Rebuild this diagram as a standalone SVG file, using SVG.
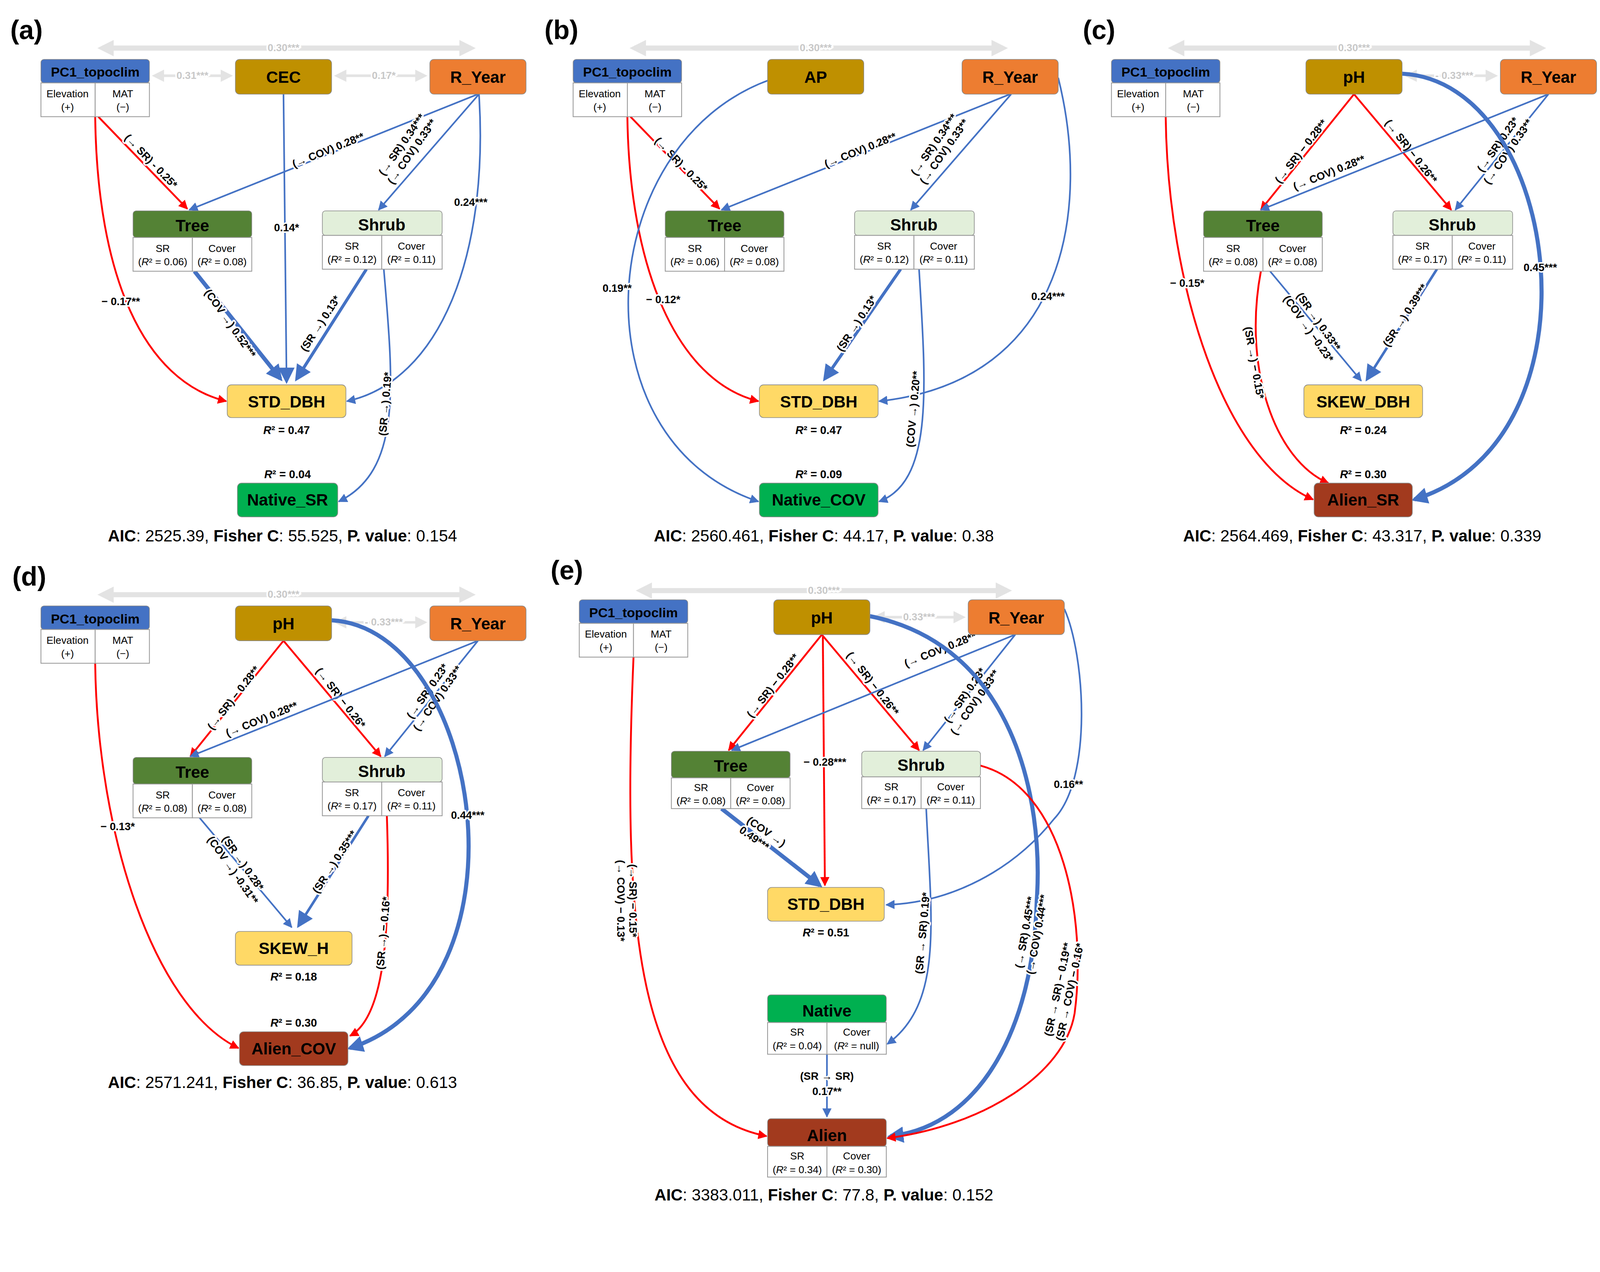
<svg xmlns="http://www.w3.org/2000/svg" width="4294" height="3256" viewBox="0 0 4294 3256">
<style>
text{font-family:"Liberation Sans",Arial,sans-serif;text-anchor:middle}
.t{font-size:16px;font-weight:bold}
.tp{font-size:13px;font-weight:bold}
.c{font-size:10px}
.l{font-size:10.5px;font-weight:bold;stroke:#fff;stroke-width:3px;paint-order:stroke;stroke-linejoin:round}
.g{font-size:10px;font-weight:bold;fill:#C8C8C8;stroke:#fff;stroke-width:3px;paint-order:stroke}
.r2{font-size:11px;font-weight:bold}
.pl{font-size:26px;font-weight:bold;text-anchor:start}
.aic{font-size:16px}
.cell{fill:#fff;stroke:#999;stroke-width:0.8}
.hd{stroke:#888;stroke-width:0.6}
.b{fill:none;stroke:#4472C4;stroke-width:1.6;marker-end:url(#ab)}
.bk{fill:none;stroke:#4472C4;stroke-width:4;marker-end:url(#abk)}
.r{fill:none;stroke:#FF0000;stroke-width:1.8;marker-end:url(#ar)}
.gr{fill:none;stroke:#E3E3E3;stroke-width:5;marker-end:url(#ag);marker-start:url(#ags)}
.gs{fill:none;stroke:#E3E3E3;stroke-width:2.5;marker-end:url(#ag2);marker-start:url(#ag2s)}
</style>
<defs>
<marker id="ab" viewBox="0 0 10 10" refX="9" refY="5" markerWidth="9" markerHeight="9" markerUnits="userSpaceOnUse" orient="auto"><path d="M0,0 L10,5 L0,10 z" fill="#4472C4"/></marker>
<marker id="abk" viewBox="0 0 10 10" refX="8" refY="5" markerWidth="16" markerHeight="16" markerUnits="userSpaceOnUse" orient="auto"><path d="M0,0 L10,5 L0,10 z" fill="#4472C4"/></marker>
<marker id="ar" viewBox="0 0 10 10" refX="9" refY="5" markerWidth="9" markerHeight="9" markerUnits="userSpaceOnUse" orient="auto"><path d="M0,0 L10,5 L0,10 z" fill="#FF0000"/></marker>
<marker id="ag" viewBox="0 0 10 10" refX="7" refY="5" markerWidth="16" markerHeight="16" markerUnits="userSpaceOnUse" orient="auto"><path d="M0,0 L10,5 L0,10 z" fill="#E3E3E3"/></marker>
<marker id="ags" viewBox="0 0 10 10" refX="3" refY="5" markerWidth="16" markerHeight="16" markerUnits="userSpaceOnUse" orient="auto"><path d="M10,0 L0,5 L10,10 z" fill="#E3E3E3"/></marker>
<marker id="ag2" viewBox="0 0 10 10" refX="7" refY="5" markerWidth="12" markerHeight="12" markerUnits="userSpaceOnUse" orient="auto"><path d="M0,0 L10,5 L0,10 z" fill="#E3E3E3"/></marker>
<marker id="ag2s" viewBox="0 0 10 10" refX="3" refY="5" markerWidth="12" markerHeight="12" markerUnits="userSpaceOnUse" orient="auto"><path d="M10,0 L0,5 L10,10 z" fill="#E3E3E3"/></marker>
</defs>
<rect width="4294" height="3256" fill="#fff"/>
<g transform="scale(2.62)">

<!-- ================= PANEL A ================= -->
<g id="panel-a">
<text class="pl" x="10" y="38">(a)</text>
<g id="a-connectors">
<path class="gr" d="M100,47 L460,47"/><text class="g" x="277" y="50">0.30***</text>
<path class="gs" d="M152,74 L224,74"/><text class="g" x="188" y="77">0.31***</text>
<path class="gs" d="M330,74 L414,74"/><text class="g" x="375" y="77">0.17*</text>
<path class="r" d="M96,114 L183,204"/><text class="l" transform="translate(145,160) rotate(46)">(→ SR) - 0.25*</text>
<path class="r" d="M93,114 C95,270 140,372 221,392"/><text class="l" x="118" y="298">− 0.17**</text>
<path class="b" d="M467,92 L185,205"/><text class="l" transform="translate(322,150) rotate(-22)">(→ COV) 0.28**</text>
<path class="b" d="M468,92 L370,205"/><text class="l" transform="translate(398,145) rotate(-55)"><tspan x="0" y="-3">(→ SR) 0.34***</tspan><tspan x="0" y="9">(→ COV) 0.33**</tspan></text>
<path fill="none" stroke="#4472C4" stroke-width="1.6" marker-end="url(#abk)" d="M277,92 L280,372"/><text class="l" x="280" y="226">0.14*</text>
<path class="bk" d="M190,265 L274,370"/><text class="l" transform="translate(222,318) rotate(55)">(COV →) 0.52***</text>
<path class="bk" style="stroke-width:3" d="M358,263 L290,370"/><text class="l" transform="translate(316,318) rotate(-57)">(SR →) 0.13*</text>
<path class="b" d="M468,92 C478,250 430,372 339,392"/><text class="l" x="460" y="201">0.24***</text>
<path class="b" d="M375,263 C385,380 392,460 331,490"/><text class="l" transform="translate(380,395) rotate(-85)">(SR →) 0.19*</text>
</g>
<g id="a-PC1"><rect x="40" y="58" width="106" height="23" rx="3" fill="#4472C4" class="hd"/><rect class="cell" x="40" y="81" width="53" height="33"/><rect class="cell" x="93" y="81" width="53" height="33"/><text class="tp" x="93" y="75">PC1_topoclim</text><text class="c" x="66" y="95">Elevation</text><text class="c" x="66" y="108">(+)</text><text class="c" x="120" y="95">MAT</text><text class="c" x="120" y="108">(−)</text></g>
<g id="a-CEC"><rect x="230" y="58" width="94" height="34" rx="4" fill="#BF9000" class="hd"/><text class="t" x="277" y="81">CEC</text></g>
<g id="a-RYear"><rect x="420" y="58" width="94" height="34" rx="4" fill="#ED7D31" class="hd"/><text class="t" x="467" y="81">R_Year</text></g>
<g id="a-Tree"><rect x="130" y="206" width="116" height="26" rx="3" fill="#548235" class="hd"/><rect class="cell" x="130" y="232" width="58" height="33"/><rect class="cell" x="188" y="232" width="58" height="33"/><text class="t" x="188" y="226">Tree</text><text class="c" x="159" y="246">SR</text><text class="c" x="159" y="259">(<tspan font-style="italic">R</tspan>² = 0.06)</text><text class="c" x="217" y="246">Cover</text><text class="c" x="217" y="259">(<tspan font-style="italic">R</tspan>² = 0.08)</text></g>
<g id="a-Shrub"><rect x="315" y="206" width="117" height="24" rx="3" fill="#E2EFDA" class="hd"/><rect class="cell" x="315" y="230" width="58" height="33"/><rect class="cell" x="373" y="230" width="59" height="33"/><text class="t" x="373" y="225">Shrub</text><text class="c" x="344" y="244">SR</text><text class="c" x="344" y="257">(<tspan font-style="italic">R</tspan>² = 0.12)</text><text class="c" x="402" y="244">Cover</text><text class="c" x="402" y="257">(<tspan font-style="italic">R</tspan>² = 0.11)</text></g>
<g id="a-STD"><rect x="222" y="376" width="116" height="32" rx="4" fill="#FFD966" class="hd"/><text class="t" x="280" y="398">STD_DBH</text><text class="r2" x="280" y="424"><tspan font-style="italic">R</tspan>² = 0.47</text></g>
<g id="a-Native"><rect x="232" y="472" width="98" height="33" rx="4" fill="#00B050" class="hd"/><text class="t" x="281" y="494">Native_SR</text><text class="r2" x="281" y="467"><tspan font-style="italic">R</tspan>² = 0.04</text></g>
<text class="aic" x="276" y="529"><tspan font-weight="bold">AIC</tspan>: 2525.39, <tspan font-weight="bold">Fisher C</tspan>: 55.525, <tspan font-weight="bold">P. value</tspan>: 0.154</text>
</g>

<!-- ================= PANEL B ================= -->
<g id="panel-b" transform="translate(520,0)">
<text class="pl" x="12" y="38">(b)</text>
<g id="b-connectors">
<path class="gr" d="M100,47 L460,47"/><text class="g" x="277" y="50">0.30***</text>
<path class="r" d="M96,114 L183,204"/><text class="l" transform="translate(143,163) rotate(46)">(→ SR) - 0.25*</text>
<path class="r" d="M93,114 C95,260 140,372 221,392"/><text class="l" x="128" y="296">− 0.12*</text>
<path class="b" d="M232,78 C60,140 40,430 221,490"/><text class="l" x="83" y="285">0.19**</text>
<path class="b" d="M467,92 L185,205"/><text class="l" transform="translate(322,150) rotate(-22)">(→ COV) 0.28**</text>
<path class="b" d="M468,92 L370,205"/><text class="l" transform="translate(398,145) rotate(-55)"><tspan x="0" y="-3">(→ SR) 0.34***</tspan><tspan x="0" y="9">(→ COV) 0.33**</tspan></text>
<path class="b" d="M514,76 C545,200 525,372 339,392"/><text class="l" x="504" y="293">0.24***</text>
<path class="bk" style="stroke-width:3" d="M360,263 L286,370"/><text class="l" transform="translate(320,318) rotate(-57)">(SR →) 0.13*</text>
<path class="b" d="M378,263 C385,380 392,470 339,490"/><text class="l" transform="translate(376,400) rotate(-85)">(COV →) 0.20**</text>
</g>
<g id="b-PC1"><rect x="40" y="58" width="106" height="23" rx="3" fill="#4472C4" class="hd"/><rect class="cell" x="40" y="81" width="53" height="33"/><rect class="cell" x="93" y="81" width="53" height="33"/><text class="tp" x="93" y="75">PC1_topoclim</text><text class="c" x="66" y="95">Elevation</text><text class="c" x="66" y="108">(+)</text><text class="c" x="120" y="95">MAT</text><text class="c" x="120" y="108">(−)</text></g>
<g id="b-AP"><rect x="230" y="58" width="94" height="34" rx="4" fill="#BF9000" class="hd"/><text class="t" x="277" y="81">AP</text></g>
<g id="b-RYear"><rect x="420" y="58" width="94" height="34" rx="4" fill="#ED7D31" class="hd"/><text class="t" x="467" y="81">R_Year</text></g>
<g id="b-Tree"><rect x="130" y="206" width="116" height="26" rx="3" fill="#548235" class="hd"/><rect class="cell" x="130" y="232" width="58" height="33"/><rect class="cell" x="188" y="232" width="58" height="33"/><text class="t" x="188" y="226">Tree</text><text class="c" x="159" y="246">SR</text><text class="c" x="159" y="259">(<tspan font-style="italic">R</tspan>² = 0.06)</text><text class="c" x="217" y="246">Cover</text><text class="c" x="217" y="259">(<tspan font-style="italic">R</tspan>² = 0.08)</text></g>
<g id="b-Shrub"><rect x="315" y="206" width="117" height="24" rx="3" fill="#E2EFDA" class="hd"/><rect class="cell" x="315" y="230" width="58" height="33"/><rect class="cell" x="373" y="230" width="59" height="33"/><text class="t" x="373" y="225">Shrub</text><text class="c" x="344" y="244">SR</text><text class="c" x="344" y="257">(<tspan font-style="italic">R</tspan>² = 0.12)</text><text class="c" x="402" y="244">Cover</text><text class="c" x="402" y="257">(<tspan font-style="italic">R</tspan>² = 0.11)</text></g>
<g id="b-STD"><rect x="222" y="376" width="116" height="32" rx="4" fill="#FFD966" class="hd"/><text class="t" x="280" y="398">STD_DBH</text><text class="r2" x="280" y="424"><tspan font-style="italic">R</tspan>² = 0.47</text></g>
<g id="b-Native"><rect x="222" y="472" width="116" height="33" rx="4" fill="#00B050" class="hd"/><text class="t" x="280" y="494">Native_COV</text><text class="r2" x="280" y="467"><tspan font-style="italic">R</tspan>² = 0.09</text></g>
<text class="aic" x="285" y="529"><tspan font-weight="bold">AIC</tspan>: 2560.461, <tspan font-weight="bold">Fisher C</tspan>: 44.17, <tspan font-weight="bold">P. value</tspan>: 0.38</text>
</g>

<!-- ================= PANEL C ================= -->
<g id="panel-c" transform="translate(1046,0)">
<text class="pl" x="12" y="38">(c)</text>
<g id="c-connectors">
<path class="gr" d="M100,47 L460,47"/><text class="g" x="277" y="50">0.30***</text>
<path class="gs" d="M330,74 L414,74"/><text class="g" x="375" y="77">- 0.33***</text>
<path class="r" d="M93,114 C95,280 150,450 237,488"/><text class="l" x="114" y="280">− 0.15*</text>
<path class="r" d="M277,92 L186,205"/><text class="l" transform="translate(228,150) rotate(-52)">(→ SR) − 0.28**</text>
<path class="r" d="M277,92 L372,205"/><text class="l" transform="translate(330,150) rotate(52)">(→ SR) − 0.26**</text>
<path class="b" d="M467,92 L186,205"/><text class="l" transform="translate(254,172) rotate(-22)">(→ COV) 0.28**</text>
<path class="b" d="M467,92 L376,205"/><text class="l" transform="translate(423,145) rotate(-55)"><tspan x="0" y="-3">(→ SR) 0.23*</tspan><tspan x="0" y="9">(→ COV) 0.33**</tspan></text>
<path class="bk" d="M324,72 C480,80 525,430 336,488"/><text class="l" x="459" y="265">0.45***</text>
<path class="b" d="M195,265 L284,372"/><text class="l" transform="translate(237,318) rotate(55)"><tspan x="0" y="-3">(SR →) 0.33**</tspan><tspan x="0" y="9">(COV →) −0.23*</tspan></text>
<path class="bk" style="stroke-width:2.5" d="M358,263 L290,370"/><text class="l" transform="translate(330,310) rotate(-57)">(SR →) 0.39***</text>
<path class="r" d="M186,265 C168,360 200,450 252,472"/><text class="l" transform="translate(176,355) rotate(80)">(SR →) − 0.15*</text>
</g>
<g id="c-PC1"><rect x="40" y="58" width="106" height="23" rx="3" fill="#4472C4" class="hd"/><rect class="cell" x="40" y="81" width="53" height="33"/><rect class="cell" x="93" y="81" width="53" height="33"/><text class="tp" x="93" y="75">PC1_topoclim</text><text class="c" x="66" y="95">Elevation</text><text class="c" x="66" y="108">(+)</text><text class="c" x="120" y="95">MAT</text><text class="c" x="120" y="108">(−)</text></g>
<g id="c-pH"><rect x="230" y="58" width="94" height="34" rx="4" fill="#BF9000" class="hd"/><text class="t" x="277" y="81">pH</text></g>
<g id="c-RYear"><rect x="420" y="58" width="94" height="34" rx="4" fill="#ED7D31" class="hd"/><text class="t" x="467" y="81">R_Year</text></g>
<g id="c-Tree"><rect x="130" y="206" width="116" height="26" rx="3" fill="#548235" class="hd"/><rect class="cell" x="130" y="232" width="58" height="33"/><rect class="cell" x="188" y="232" width="58" height="33"/><text class="t" x="188" y="226">Tree</text><text class="c" x="159" y="246">SR</text><text class="c" x="159" y="259">(<tspan font-style="italic">R</tspan>² = 0.08)</text><text class="c" x="217" y="246">Cover</text><text class="c" x="217" y="259">(<tspan font-style="italic">R</tspan>² = 0.08)</text></g>
<g id="c-Shrub"><rect x="315" y="206" width="117" height="24" rx="3" fill="#E2EFDA" class="hd"/><rect class="cell" x="315" y="230" width="58" height="33"/><rect class="cell" x="373" y="230" width="59" height="33"/><text class="t" x="373" y="225">Shrub</text><text class="c" x="344" y="244">SR</text><text class="c" x="344" y="257">(<tspan font-style="italic">R</tspan>² = 0.17)</text><text class="c" x="402" y="244">Cover</text><text class="c" x="402" y="257">(<tspan font-style="italic">R</tspan>² = 0.11)</text></g>
<g id="c-SKEW"><rect x="228" y="376" width="116" height="32" rx="4" fill="#FFD966" class="hd"/><text class="t" x="286" y="398">SKEW_DBH</text><text class="r2" x="286" y="424"><tspan font-style="italic">R</tspan>² = 0.24</text></g>
<g id="c-Alien"><rect x="238" y="472" width="96" height="33" rx="4" fill="#A23A1E" class="hd"/><text class="t" x="286" y="494">Alien_SR</text><text class="r2" x="286" y="467"><tspan font-style="italic">R</tspan>² = 0.30</text></g>
<text class="aic" x="285" y="529"><tspan font-weight="bold">AIC</tspan>: 2564.469, <tspan font-weight="bold">Fisher C</tspan>: 43.317, <tspan font-weight="bold">P. value</tspan>: 0.339</text>
</g>

<!-- ================= PANEL D ================= -->
<g id="panel-d" transform="translate(0,534)">
<text class="pl" x="12" y="38">(d)</text>
<g id="d-connectors">
<path class="gr" d="M100,47 L460,47"/><text class="g" x="277" y="50">0.30***</text>
<path class="gs" d="M330,74 L414,74"/><text class="g" x="375" y="77">- 0.33***</text>
<path class="r" d="M93,114 C95,280 150,450 233,490"/><text class="l" x="115" y="277">− 0.13*</text>
<path class="r" d="M277,92 L186,205"/><text class="l" transform="translate(231,150) rotate(-52)">(→ SR) − 0.28**</text>
<path class="r" d="M277,92 L372,205"/><text class="l" transform="translate(330,150) rotate(52)">(→ SR) − 0.26*</text>
<path class="b" d="M467,92 L186,205"/><text class="l" transform="translate(257,172) rotate(-22)">(→ COV) 0.28**</text>
<path class="b" d="M467,92 L376,205"/><text class="l" transform="translate(423,145) rotate(-55)"><tspan x="0" y="-3">(→ SR) 0.23*</tspan><tspan x="0" y="9">(→ COV) 0.33**</tspan></text>
<path class="bk" d="M324,72 C470,80 525,430 342,490"/><text class="l" x="457" y="266">0.44***</text>
<path class="b" d="M195,265 L285,372"/><text class="l" transform="translate(232,313) rotate(55)"><tspan x="0" y="-3">(SR →) 0.28*</tspan><tspan x="0" y="9">(COV →) -0.31**</tspan></text>
<path class="bk" style="stroke-width:2.5" d="M360,263 L292,370"/><text class="l" transform="translate(330,310) rotate(-57)">(SR →) 0.35***</text>
<path class="r" d="M378,263 C382,380 375,460 342,478"/><text class="l" transform="translate(378,378) rotate(-85)">(SR →) − 0.16*</text>
</g>
<g id="d-PC1"><rect x="40" y="58" width="106" height="23" rx="3" fill="#4472C4" class="hd"/><rect class="cell" x="40" y="81" width="53" height="33"/><rect class="cell" x="93" y="81" width="53" height="33"/><text class="tp" x="93" y="75">PC1_topoclim</text><text class="c" x="66" y="95">Elevation</text><text class="c" x="66" y="108">(+)</text><text class="c" x="120" y="95">MAT</text><text class="c" x="120" y="108">(−)</text></g>
<g id="d-pH"><rect x="230" y="58" width="94" height="34" rx="4" fill="#BF9000" class="hd"/><text class="t" x="277" y="81">pH</text></g>
<g id="d-RYear"><rect x="420" y="58" width="94" height="34" rx="4" fill="#ED7D31" class="hd"/><text class="t" x="467" y="81">R_Year</text></g>
<g id="d-Tree"><rect x="130" y="206" width="116" height="26" rx="3" fill="#548235" class="hd"/><rect class="cell" x="130" y="232" width="58" height="33"/><rect class="cell" x="188" y="232" width="58" height="33"/><text class="t" x="188" y="226">Tree</text><text class="c" x="159" y="246">SR</text><text class="c" x="159" y="259">(<tspan font-style="italic">R</tspan>² = 0.08)</text><text class="c" x="217" y="246">Cover</text><text class="c" x="217" y="259">(<tspan font-style="italic">R</tspan>² = 0.08)</text></g>
<g id="d-Shrub"><rect x="315" y="206" width="117" height="24" rx="3" fill="#E2EFDA" class="hd"/><rect class="cell" x="315" y="230" width="58" height="33"/><rect class="cell" x="373" y="230" width="59" height="33"/><text class="t" x="373" y="225">Shrub</text><text class="c" x="344" y="244">SR</text><text class="c" x="344" y="257">(<tspan font-style="italic">R</tspan>² = 0.17)</text><text class="c" x="402" y="244">Cover</text><text class="c" x="402" y="257">(<tspan font-style="italic">R</tspan>² = 0.11)</text></g>
<g id="d-SKEW"><rect x="230" y="376" width="114" height="33" rx="4" fill="#FFD966" class="hd"/><text class="t" x="287" y="398">SKEW_H</text><text class="r2" x="287" y="424"><tspan font-style="italic">R</tspan>² = 0.18</text></g>
<g id="d-Alien"><rect x="234" y="474" width="106" height="33" rx="4" fill="#A23A1E" class="hd"/><text class="t" x="287" y="496">Alien_COV</text><text class="r2" x="287" y="469"><tspan font-style="italic">R</tspan>² = 0.30</text></g>
<text class="aic" x="276" y="529"><tspan font-weight="bold">AIC</tspan>: 2571.241, <tspan font-weight="bold">Fisher C</tspan>: 36.85, <tspan font-weight="bold">P. value</tspan>: 0.613</text>
</g>

<!-- ================= PANEL E ================= -->
<g id="panel-e">
<text class="pl" x="538" y="566">(e)</text>
<g id="e-connectors">
<path class="gr" d="M626,577 L984,577"/><text class="g" x="805" y="580">0.30***</text>
<path class="gs" d="M856,603 L940,603"/><text class="g" x="898" y="606">0.33***</text>
<path class="r" d="M619,642 C608,900 620,1085 749,1110"/><text class="l" transform="translate(612,880) rotate(90)"><tspan x="0" y="-3">(→ SR) − 0.15*</tspan><tspan x="0" y="9">(→ COV) − 0.13*</tspan></text>
<path class="r" d="M803,620 L712,733"/><text class="l" transform="translate(758,672) rotate(-52)">(→ SR) − 0.28**</text>
<path class="r" d="M803,620 L898,733"/><text class="l" transform="translate(850,670) rotate(52)">(→ SR) − 0.26**</text>
<path class="r" d="M804,622 L806,865"/><text class="l" x="806" y="748">− 0.28***</text>
<path class="b" d="M992,620 L715,733"/><text class="l" transform="translate(920,638) rotate(-22)">(→ COV) 0.28**</text>
<path class="b" d="M992,620 L902,733"/><text class="l" transform="translate(948,683) rotate(-55)"><tspan x="0" y="-3">(→ SR) 0.23*</tspan><tspan x="0" y="9">(→ COV) 0.33**</tspan></text>
<path class="bk" d="M850,602 C990,630 1020,780 1013,880 C1010,1000 960,1100 870,1110"/><text class="l" transform="translate(1008,912) rotate(-80)"><tspan x="0" y="-3">(→ SR) 0.45***</tspan><tspan x="0" y="9">(→ COV) 0.44***</tspan></text>
<path class="b" d="M1040,595 C1060,640 1068,760 1030,800 C990,850 930,882 866,884"/><text class="l" x="1044" y="770">0.16**</text>
<path class="bk" d="M705,790 L801,865"/><text class="l" transform="translate(745,818) rotate(35)"><tspan x="0" y="-3">(COV →)</tspan><tspan x="-6" y="9">0.49***</tspan></text>
<path class="b" d="M905,790 C910,900 922,980 867,1020"/><text class="l" transform="translate(905,912) rotate(-85)">(SR → SR) 0.19*</text>
<path class="r" d="M958,748 C1040,770 1062,900 1050,990 C1040,1050 960,1100 867,1112"/><text class="l" transform="translate(1040,968) rotate(-78)"><tspan x="0" y="-3">(SR → SR) − 0.19**</tspan><tspan x="0" y="9">(SR → COV) − 0.16*</tspan></text>
<path class="b" d="M808,1030 L808,1091"/><text class="l" x="808" y="1055">(SR → SR)</text><text class="l" x="808" y="1070">0.17**</text>
</g>
<g id="e-PC1"><rect x="566" y="586" width="106" height="23" rx="3" fill="#4472C4" class="hd"/><rect class="cell" x="566" y="609" width="53" height="33"/><rect class="cell" x="619" y="609" width="53" height="33"/><text class="tp" x="619" y="603">PC1_topoclim</text><text class="c" x="592" y="623">Elevation</text><text class="c" x="592" y="636">(+)</text><text class="c" x="646" y="623">MAT</text><text class="c" x="646" y="636">(−)</text></g>
<g id="e-pH"><rect x="756" y="586" width="94" height="34" rx="4" fill="#BF9000" class="hd"/><text class="t" x="803" y="609">pH</text></g>
<g id="e-RYear"><rect x="946" y="586" width="94" height="34" rx="4" fill="#ED7D31" class="hd"/><text class="t" x="993" y="609">R_Year</text></g>
<g id="e-Tree"><rect x="656" y="734" width="116" height="26" rx="3" fill="#548235" class="hd"/><rect class="cell" x="656" y="760" width="58" height="30"/><rect class="cell" x="714" y="760" width="58" height="30"/><text class="t" x="714" y="754">Tree</text><text class="c" x="685" y="773">SR</text><text class="c" x="685" y="786">(<tspan font-style="italic">R</tspan>² = 0.08)</text><text class="c" x="743" y="773">Cover</text><text class="c" x="743" y="786">(<tspan font-style="italic">R</tspan>² = 0.08)</text></g>
<g id="e-Shrub"><rect x="842" y="734" width="116" height="25" rx="3" fill="#E2EFDA" class="hd"/><rect class="cell" x="842" y="759" width="58" height="31"/><rect class="cell" x="900" y="759" width="58" height="31"/><text class="t" x="900" y="753">Shrub</text><text class="c" x="871" y="772">SR</text><text class="c" x="871" y="785">(<tspan font-style="italic">R</tspan>² = 0.17)</text><text class="c" x="929" y="772">Cover</text><text class="c" x="929" y="785">(<tspan font-style="italic">R</tspan>² = 0.11)</text></g>
<g id="e-STD"><rect x="750" y="867" width="114" height="33" rx="4" fill="#FFD966" class="hd"/><text class="t" x="807" y="889">STD_DBH</text><text class="r2" x="807" y="915"><tspan font-style="italic">R</tspan>² = 0.51</text></g>
<g id="e-Native"><rect x="750" y="972" width="116" height="27" rx="3" fill="#00B050" class="hd"/><rect class="cell" x="750" y="999" width="58" height="31"/><rect class="cell" x="808" y="999" width="58" height="31"/><text class="t" x="808" y="993">Native</text><text class="c" x="779" y="1012">SR</text><text class="c" x="779" y="1025">(<tspan font-style="italic">R</tspan>² = 0.04)</text><text class="c" x="837" y="1012">Cover</text><text class="c" x="837" y="1025">(<tspan font-style="italic">R</tspan>² = null)</text></g>
<g id="e-Alien"><rect x="750" y="1093" width="116" height="27" rx="3" fill="#A23A1E" class="hd"/><rect class="cell" x="750" y="1120" width="58" height="30"/><rect class="cell" x="808" y="1120" width="58" height="30"/><text class="t" x="808" y="1115">Alien</text><text class="c" x="779" y="1133">SR</text><text class="c" x="779" y="1146">(<tspan font-style="italic">R</tspan>² = 0.34)</text><text class="c" x="837" y="1133">Cover</text><text class="c" x="837" y="1146">(<tspan font-style="italic">R</tspan>² = 0.30)</text></g>
<text class="aic" x="805" y="1173"><tspan font-weight="bold">AIC</tspan>: 3383.011, <tspan font-weight="bold">Fisher C</tspan>: 77.8, <tspan font-weight="bold">P. value</tspan>: 0.152</text>
</g>
</g>
</svg>
